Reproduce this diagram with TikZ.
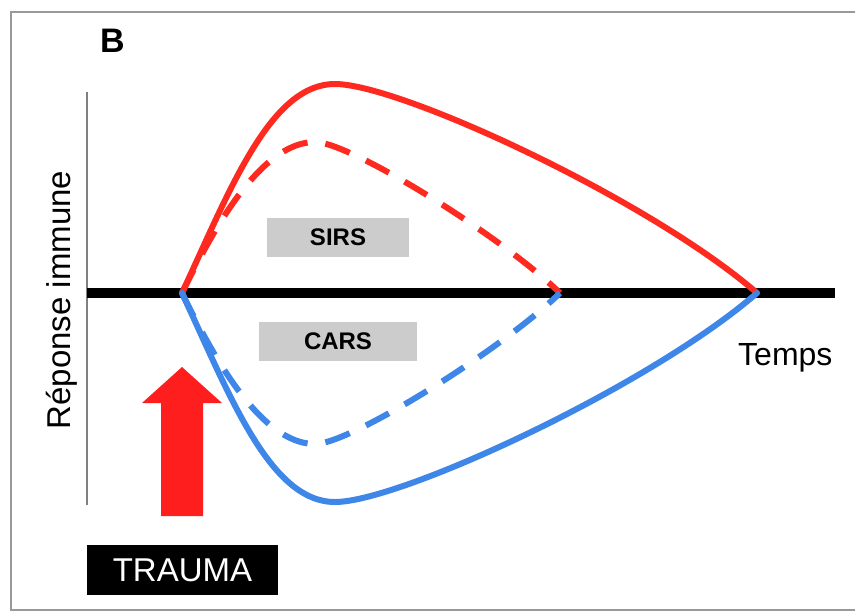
\documentclass[tikz,border=0pt]{standalone}
\usepackage{fontspec}
\setmainfont{Liberation Sans}
\definecolor{cred}{HTML}{FF2A1F}
\definecolor{cblue}{HTML}{3E86E8}
\definecolor{carrow}{HTML}{FF1E1E}
\definecolor{boxgray}{HTML}{CCCCCC}
\definecolor{framegray}{HTML}{999999}
\tikzset{
  curvesolid/.style={line width=6pt, line cap=round, line join=round},
  curvedash/.style={line width=6pt, dash pattern=on 26pt off 18pt},
  labelbox/.style={fill=boxgray, inner sep=0pt, font=\fontsize{24}{28}\selectfont\bfseries},
}
\begin{document}
\begin{tikzpicture}[x=1pt,y=-1pt]
\useasboundingbox (0,0) rectangle (855,614);
\fill[white] (0,0) rectangle (855,614);
% frame
\draw[framegray, line width=2pt] (855,12) -- (11,12) -- (11,610) -- (855,610);
% axes
\draw[gray, line width=1.2pt] (87,92) -- (87,505);
\draw[black, line width=10pt] (87,293) -- (835,293);
% key points
\coordinate (o) at (182,293);
\coordinate (e1) at (757,293);
\coordinate (e2) at (560,293);
\coordinate (pr) at (335,84);
\coordinate (pd) at (315,142);
\coordinate (tb) at (335,502);
\coordinate (td) at (315,444);
% red curves
\draw[cred, curvesolid] (o) .. controls (230,190) and (270,84) .. (pr)
  .. controls (400,84) and (650,200) .. (e1);
\draw[cred, curvedash] (o) .. controls (212,232) and (260,142) .. (pd)
  .. controls (350,142) and (500,235) .. (e2);
% blue curves
\draw[cblue, curvesolid] (o) .. controls (230,396) and (270,502) .. (tb)
  .. controls (400,502) and (650,386) .. (e1);
\draw[cblue, curvedash] (o) .. controls (212,354) and (260,444) .. (td)
  .. controls (350,444) and (500,351) .. (e2);
% labels
\node[labelbox, minimum width=142pt, minimum height=39pt] (sirs) at (338,237.5) {SIRS};
\node[labelbox, minimum width=158pt, minimum height=39pt] (cars) at (338,341.5) {CARS};
\node[anchor=base west, inner sep=0pt, font=\fontsize{32}{36}\selectfont] (temps) at (738,365) {Temps};
\node[anchor=base, rotate=90, inner sep=0pt, font=\fontsize{33}{38}\selectfont] (ylab) at (70,300) {Réponse immune};
\node[anchor=base west, inner sep=0pt, font=\fontsize{34}{38}\selectfont\bfseries] (B) at (100,52) {B};
% trauma arrow
\fill[carrow] (161,516) -- (161,403) -- (142,403) -- (182,367) -- (222,403) -- (203,403) -- (203,516) -- cycle;
\node[fill=black, text=white, inner sep=0pt, minimum width=191pt, minimum height=50pt, font=\fontsize{33}{38}\selectfont] (trauma) at (182.5,570) {TRAUMA};
\end{tikzpicture}
\end{document}
